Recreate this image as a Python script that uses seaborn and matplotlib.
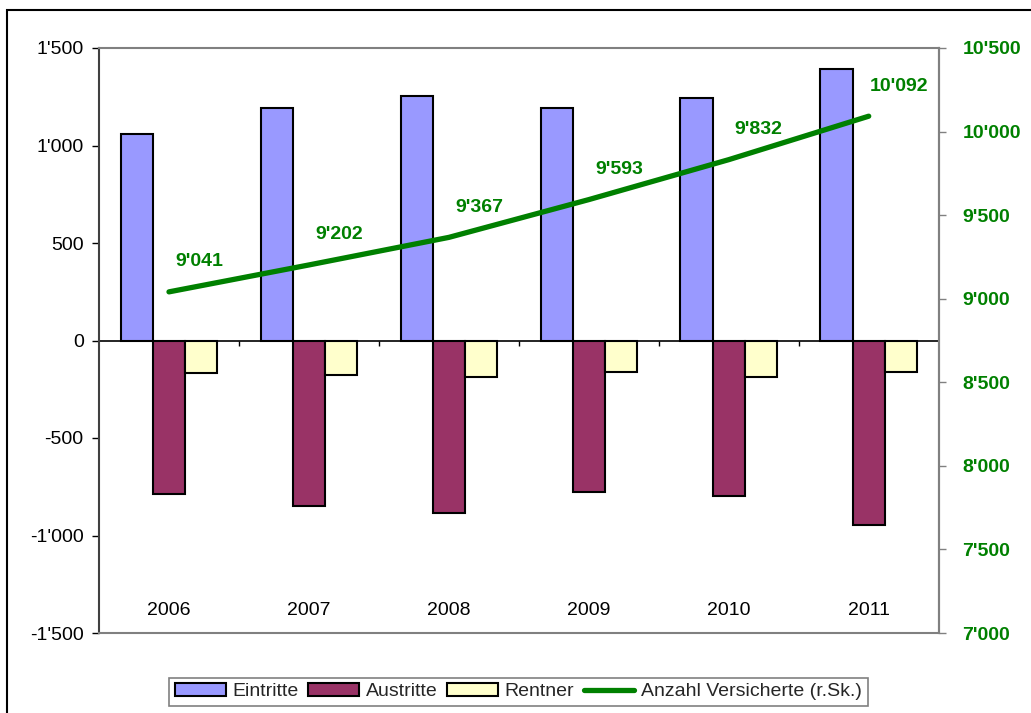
import numpy as np
import pandas as pd
import matplotlib
matplotlib.use("Agg")
import matplotlib.pyplot as plt
from matplotlib.patches import Patch, Rectangle
from matplotlib.lines import Line2D
from matplotlib.ticker import FuncFormatter
import seaborn as sns

# data
years = ["2006", "2007", "2008", "2009", "2010", "2011"]
eintritte = [1060, 1190, 1252, 1192, 1246, 1390]
austritte = [-788, -848, -884, -779, -798, -944]
rentner = [-166, -177, -187, -164, -185, -164]
versicherte = [9041, 9202, 9367, 9593, 9832, 10092]

series_names = ["Eintritte", "Austritte", "Rentner"]
bar_colors = ["#9999FF", "#993366", "#FFFFCC"]
line_color = "#008000"
line_label = "Anzahl Versicherte (r.Sk.)"

sns.set_style("white")
plt.rcParams["font.family"] = ["Liberation Sans", "DejaVu Sans"]

df = pd.DataFrame({
    "Jahr": years * 3,
    "Wert": eintritte + austritte + rentner,
    "Serie": [s for s in series_names for _ in years],
})


def swiss(v, pos=None):
    return f"{int(round(v)):,}".replace(",", "'")


fig = plt.figure(figsize=(10.31, 7.13), dpi=100)
ax = fig.add_axes([99 / 1031, 80 / 713, 839.7 / 1031, 585 / 713])

# 1. bars
sns.barplot(data=df, x="Jahr", y="Wert", hue="Serie", hue_order=series_names,
            order=years, palette=bar_colors, width=0.69, edgecolor="black",
            linewidth=1.5, saturation=1, legend=False, ax=ax)
ax.set_xlim(-0.5, len(years) - 0.5)
ax.set_ylim(-1500, 1500)
ax.set_yticks(np.arange(-1500, 1501, 500))
ax.yaxis.set_major_formatter(FuncFormatter(swiss))
ax.set_xlabel("")
ax.set_ylabel("")

# year labels sit inside the plot, near the bottom
ax.tick_params(axis="x", length=0, pad=-22, labelsize=14, colors="black")
ax.tick_params(axis="y", direction="out", length=5, width=1, labelsize=14,
               left=True, colors="black", pad=6)

for side in ["top", "bottom", "right"]:
    ax.spines[side].set_color("#808080")
    ax.spines[side].set_linewidth(1.5)
ax.spines["left"].set_color("#404040")
ax.spines["left"].set_linewidth(1.5)

# zero line with small separators between the years
ax.axhline(0, color="black", linewidth=1.2, zorder=1)
ax.vlines(np.arange(0.5, len(years) - 0.5, 1), -26, 0, color="black",
          linewidth=1, zorder=1)

# 2. line on the right axis
ax2 = ax.twinx()
xpos = np.arange(len(years))
sns.lineplot(x=xpos, y=versicherte, color=line_color, linewidth=3.8, ax=ax2)
ax2.set_ylim(7000, 10500)
right_ticks = np.arange(7000, 10501, 500)
ax2.set_yticks(right_ticks, labels=[swiss(t) for t in right_ticks],
               fontweight="bold")
ax2.tick_params(axis="y", direction="out", length=5, width=1, labelsize=14,
                labelcolor=line_color, color="#808080", right=True, pad=12)
ax2.set_xlim(-0.5, len(years) - 0.5)
for side in ["top", "bottom", "left"]:
    ax2.spines[side].set_visible(False)
ax2.spines["right"].set_color("#808080")
ax2.spines["right"].set_linewidth(1.5)

for x, v in zip(xpos, versicherte):
    ax2.annotate(swiss(v), (x, v), xytext=(30, 30), textcoords="offset pixels",
                 ha="center", va="center", fontsize=14, fontweight="bold",
                 color=line_color)

# 3. legend
handles = [Patch(facecolor=c, edgecolor="black", linewidth=1.5) for c in bar_colors]
handles.append(Line2D([0], [0], color=line_color, linewidth=3.8))
leg = fig.legend(handles, series_names + [line_label], loc="center",
                 bbox_to_anchor=(0.503, 0.0295), ncol=4, fontsize=14,
                 frameon=True, fancybox=False, handlelength=2.6,
                 handleheight=0.6, handletextpad=0.35, columnspacing=0.5,
                 borderpad=0.3)
leg.get_frame().set_edgecolor("#606060")
leg.get_frame().set_linewidth(1.2)

# outer chart border (runs off the right and bottom edge)
fig.add_artist(Rectangle((7 / 1031, -0.05), 1.2, 1 - 10 / 713 + 0.05,
                         transform=fig.transFigure, fill=False,
                         edgecolor="black", linewidth=1.5))

fig.savefig("out.png", dpi=100)
